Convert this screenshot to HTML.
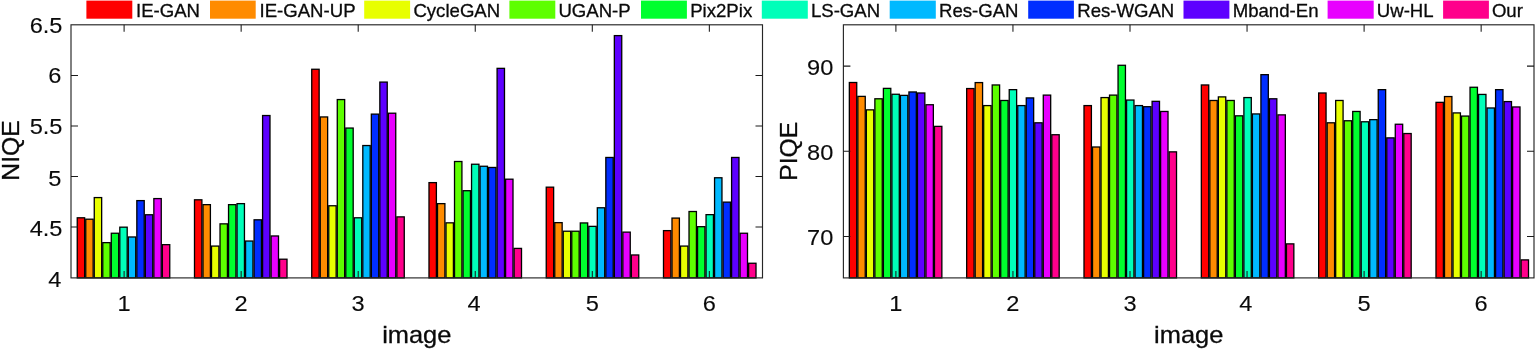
<!DOCTYPE html>
<html><head><meta charset="utf-8"><title>NIQE / PIQE comparison</title>
<style>html,body{margin:0;padding:0;background:#fff}svg{display:block;filter:blur(0.4px)}text{font-family:"Liberation Sans",Arial,Helvetica,sans-serif;fill:#0a0a0a;stroke:#0a0a0a;stroke-width:0.3px}.t text{stroke-width:0.12px}</style></head><body>
<svg width="1535" height="350" viewBox="0 0 1535 350">
<rect width="1535" height="350" fill="#fff"/>
<g>
<rect x="77.24" y="217.79" width="7.40" height="60.11" fill="#ff0000" stroke="#000" stroke-width="1.3"/>
<rect x="85.75" y="219.20" width="7.40" height="58.70" fill="#ff8b00" stroke="#000" stroke-width="1.3"/>
<rect x="94.26" y="197.58" width="7.40" height="80.32" fill="#e8ff00" stroke="#000" stroke-width="1.3"/>
<rect x="102.77" y="242.64" width="7.40" height="35.26" fill="#5dff00" stroke="#000" stroke-width="1.3"/>
<rect x="111.29" y="233.25" width="7.40" height="44.65" fill="#00ff2e" stroke="#000" stroke-width="1.3"/>
<rect x="119.80" y="227.18" width="7.40" height="50.72" fill="#00ffb9" stroke="#000" stroke-width="1.3"/>
<rect x="128.31" y="236.98" width="7.40" height="40.92" fill="#00b9ff" stroke="#000" stroke-width="1.3"/>
<rect x="136.83" y="200.61" width="7.40" height="77.29" fill="#002eff" stroke="#000" stroke-width="1.3"/>
<rect x="145.34" y="214.76" width="7.40" height="63.14" fill="#5d00ff" stroke="#000" stroke-width="1.3"/>
<rect x="153.85" y="198.59" width="7.40" height="79.31" fill="#e800ff" stroke="#000" stroke-width="1.3"/>
<rect x="162.36" y="244.66" width="7.40" height="33.24" fill="#ff008b" stroke="#000" stroke-width="1.3"/>
<rect x="194.49" y="199.80" width="7.40" height="78.10" fill="#ff0000" stroke="#000" stroke-width="1.3"/>
<rect x="203.00" y="204.65" width="7.40" height="73.25" fill="#ff8b00" stroke="#000" stroke-width="1.3"/>
<rect x="211.51" y="246.08" width="7.40" height="31.82" fill="#e8ff00" stroke="#000" stroke-width="1.3"/>
<rect x="220.02" y="223.85" width="7.40" height="54.05" fill="#5dff00" stroke="#000" stroke-width="1.3"/>
<rect x="228.54" y="204.65" width="7.40" height="73.25" fill="#00ff2e" stroke="#000" stroke-width="1.3"/>
<rect x="237.05" y="203.64" width="7.40" height="74.26" fill="#00ffb9" stroke="#000" stroke-width="1.3"/>
<rect x="245.56" y="241.03" width="7.40" height="36.87" fill="#00b9ff" stroke="#000" stroke-width="1.3"/>
<rect x="254.08" y="219.81" width="7.40" height="58.09" fill="#002eff" stroke="#000" stroke-width="1.3"/>
<rect x="262.59" y="115.53" width="7.40" height="162.37" fill="#5d00ff" stroke="#000" stroke-width="1.3"/>
<rect x="271.10" y="235.97" width="7.40" height="41.93" fill="#e800ff" stroke="#000" stroke-width="1.3"/>
<rect x="279.61" y="259.21" width="7.40" height="18.69" fill="#ff008b" stroke="#000" stroke-width="1.3"/>
<rect x="311.74" y="69.26" width="7.40" height="208.64" fill="#ff0000" stroke="#000" stroke-width="1.3"/>
<rect x="320.25" y="116.95" width="7.40" height="160.95" fill="#ff8b00" stroke="#000" stroke-width="1.3"/>
<rect x="328.76" y="205.76" width="7.40" height="72.14" fill="#e8ff00" stroke="#000" stroke-width="1.3"/>
<rect x="337.27" y="99.57" width="7.40" height="178.33" fill="#5dff00" stroke="#000" stroke-width="1.3"/>
<rect x="345.79" y="128.06" width="7.40" height="149.84" fill="#00ff2e" stroke="#000" stroke-width="1.3"/>
<rect x="354.30" y="217.79" width="7.40" height="60.11" fill="#00ffb9" stroke="#000" stroke-width="1.3"/>
<rect x="362.81" y="145.54" width="7.40" height="132.36" fill="#00b9ff" stroke="#000" stroke-width="1.3"/>
<rect x="371.33" y="114.12" width="7.40" height="163.78" fill="#002eff" stroke="#000" stroke-width="1.3"/>
<rect x="379.84" y="82.09" width="7.40" height="195.81" fill="#5d00ff" stroke="#000" stroke-width="1.3"/>
<rect x="388.35" y="113.21" width="7.40" height="164.69" fill="#e800ff" stroke="#000" stroke-width="1.3"/>
<rect x="396.86" y="216.88" width="7.40" height="61.02" fill="#ff008b" stroke="#000" stroke-width="1.3"/>
<rect x="428.99" y="182.62" width="7.40" height="95.28" fill="#ff0000" stroke="#000" stroke-width="1.3"/>
<rect x="437.50" y="203.64" width="7.40" height="74.26" fill="#ff8b00" stroke="#000" stroke-width="1.3"/>
<rect x="446.01" y="222.84" width="7.40" height="55.06" fill="#e8ff00" stroke="#000" stroke-width="1.3"/>
<rect x="454.52" y="161.51" width="7.40" height="116.39" fill="#5dff00" stroke="#000" stroke-width="1.3"/>
<rect x="463.04" y="190.71" width="7.40" height="87.19" fill="#00ff2e" stroke="#000" stroke-width="1.3"/>
<rect x="471.55" y="164.24" width="7.40" height="113.66" fill="#00ffb9" stroke="#000" stroke-width="1.3"/>
<rect x="480.06" y="166.26" width="7.40" height="111.64" fill="#00b9ff" stroke="#000" stroke-width="1.3"/>
<rect x="488.58" y="167.47" width="7.40" height="110.43" fill="#002eff" stroke="#000" stroke-width="1.3"/>
<rect x="497.09" y="68.35" width="7.40" height="209.55" fill="#5d00ff" stroke="#000" stroke-width="1.3"/>
<rect x="505.60" y="179.19" width="7.40" height="98.71" fill="#e800ff" stroke="#000" stroke-width="1.3"/>
<rect x="514.11" y="248.40" width="7.40" height="29.50" fill="#ff008b" stroke="#000" stroke-width="1.3"/>
<rect x="546.24" y="187.17" width="7.40" height="90.73" fill="#ff0000" stroke="#000" stroke-width="1.3"/>
<rect x="554.75" y="222.64" width="7.40" height="55.26" fill="#ff8b00" stroke="#000" stroke-width="1.3"/>
<rect x="563.26" y="231.22" width="7.40" height="46.68" fill="#e8ff00" stroke="#000" stroke-width="1.3"/>
<rect x="571.77" y="231.22" width="7.40" height="46.68" fill="#5dff00" stroke="#000" stroke-width="1.3"/>
<rect x="580.29" y="222.94" width="7.40" height="54.96" fill="#00ff2e" stroke="#000" stroke-width="1.3"/>
<rect x="588.80" y="226.37" width="7.40" height="51.53" fill="#00ffb9" stroke="#000" stroke-width="1.3"/>
<rect x="597.31" y="207.78" width="7.40" height="70.12" fill="#00b9ff" stroke="#000" stroke-width="1.3"/>
<rect x="605.83" y="157.47" width="7.40" height="120.43" fill="#002eff" stroke="#000" stroke-width="1.3"/>
<rect x="614.34" y="35.61" width="7.40" height="242.29" fill="#5d00ff" stroke="#000" stroke-width="1.3"/>
<rect x="622.85" y="232.13" width="7.40" height="45.77" fill="#e800ff" stroke="#000" stroke-width="1.3"/>
<rect x="631.36" y="254.97" width="7.40" height="22.93" fill="#ff008b" stroke="#000" stroke-width="1.3"/>
<rect x="663.49" y="230.62" width="7.40" height="47.28" fill="#ff0000" stroke="#000" stroke-width="1.3"/>
<rect x="672.00" y="218.09" width="7.40" height="59.81" fill="#ff8b00" stroke="#000" stroke-width="1.3"/>
<rect x="680.51" y="246.08" width="7.40" height="31.82" fill="#e8ff00" stroke="#000" stroke-width="1.3"/>
<rect x="689.02" y="211.52" width="7.40" height="66.38" fill="#5dff00" stroke="#000" stroke-width="1.3"/>
<rect x="697.54" y="226.68" width="7.40" height="51.22" fill="#00ff2e" stroke="#000" stroke-width="1.3"/>
<rect x="706.05" y="214.65" width="7.40" height="63.25" fill="#00ffb9" stroke="#000" stroke-width="1.3"/>
<rect x="714.56" y="177.77" width="7.40" height="100.13" fill="#00b9ff" stroke="#000" stroke-width="1.3"/>
<rect x="723.08" y="202.13" width="7.40" height="75.77" fill="#002eff" stroke="#000" stroke-width="1.3"/>
<rect x="731.59" y="157.47" width="7.40" height="120.43" fill="#5d00ff" stroke="#000" stroke-width="1.3"/>
<rect x="740.10" y="233.25" width="7.40" height="44.65" fill="#e800ff" stroke="#000" stroke-width="1.3"/>
<rect x="748.61" y="263.25" width="7.40" height="14.65" fill="#ff008b" stroke="#000" stroke-width="1.3"/>
</g>
<rect x="71.0" y="24.8" width="691.50" height="253.10" fill="none" stroke="#262626" stroke-width="1.15"/>
<path d="M124.10 277.9v-7M124.10 24.8v7M241.15 277.9v-7M241.15 24.8v7M358.20 277.9v-7M358.20 24.8v7M475.25 277.9v-7M475.25 24.8v7M592.30 277.9v-7M592.30 24.8v7M709.35 277.9v-7M709.35 24.8v7M71.0 227.08h7M762.5 227.08h-7M71.0 176.56h7M762.5 176.56h-7M71.0 126.04h7M762.5 126.04h-7M71.0 75.52h7M762.5 75.52h-7" stroke="#1a1a1a" stroke-width="1.05" fill="none"/>
<g class="t">
<text transform="translate(124.10,310.80) scale(1.055,1)" font-size="22.4" text-anchor="middle">1</text>
<text transform="translate(241.15,310.80) scale(1.055,1)" font-size="22.4" text-anchor="middle">2</text>
<text transform="translate(358.20,310.80) scale(1.055,1)" font-size="22.4" text-anchor="middle">3</text>
<text transform="translate(474.15,310.80) scale(1.055,1)" font-size="22.4" text-anchor="middle">4</text>
<text transform="translate(592.30,310.80) scale(1.055,1)" font-size="22.4" text-anchor="middle">5</text>
<text transform="translate(709.35,310.80) scale(1.055,1)" font-size="22.4" text-anchor="middle">6</text>
<text transform="translate(61.50,287.20) scale(1.055,1)" font-size="22.4" text-anchor="end">4</text>
<text transform="translate(62.50,236.40) scale(1.055,1)" font-size="22.4" text-anchor="end">4.5</text>
<text transform="translate(61.50,185.70) scale(1.055,1)" font-size="22.4" text-anchor="end">5</text>
<text transform="translate(62.50,134.20) scale(1.055,1)" font-size="22.4" text-anchor="end">5.5</text>
<text transform="translate(61.50,83.40) scale(1.055,1)" font-size="22.4" text-anchor="end">6</text>
<text transform="translate(62.50,32.90) scale(1.055,1)" font-size="22.4" text-anchor="end">6.5</text>
</g>
<text transform="translate(416.75,343.40) scale(1.06,1)" font-size="24" text-anchor="middle">image</text>
<text transform="translate(18.90,150.50) rotate(-90) scale(1.03,1)" font-size="24" text-anchor="middle">NIQE</text>
<g>
<rect x="849.34" y="82.50" width="7.40" height="195.40" fill="#ff0000" stroke="#000" stroke-width="1.3"/>
<rect x="857.85" y="96.39" width="7.40" height="181.51" fill="#ff8b00" stroke="#000" stroke-width="1.3"/>
<rect x="866.36" y="109.85" width="7.40" height="168.05" fill="#e8ff00" stroke="#000" stroke-width="1.3"/>
<rect x="874.87" y="98.78" width="7.40" height="179.12" fill="#5dff00" stroke="#000" stroke-width="1.3"/>
<rect x="883.39" y="88.38" width="7.40" height="189.52" fill="#00ff2e" stroke="#000" stroke-width="1.3"/>
<rect x="891.90" y="94.26" width="7.40" height="183.64" fill="#00ffb9" stroke="#000" stroke-width="1.3"/>
<rect x="900.41" y="95.37" width="7.40" height="182.53" fill="#00b9ff" stroke="#000" stroke-width="1.3"/>
<rect x="908.93" y="91.96" width="7.40" height="185.94" fill="#002eff" stroke="#000" stroke-width="1.3"/>
<rect x="917.44" y="92.98" width="7.40" height="184.92" fill="#5d00ff" stroke="#000" stroke-width="1.3"/>
<rect x="925.95" y="104.74" width="7.40" height="173.16" fill="#e800ff" stroke="#000" stroke-width="1.3"/>
<rect x="934.46" y="126.38" width="7.40" height="151.52" fill="#ff008b" stroke="#000" stroke-width="1.3"/>
<rect x="966.67" y="88.55" width="7.40" height="189.35" fill="#ff0000" stroke="#000" stroke-width="1.3"/>
<rect x="975.18" y="82.59" width="7.40" height="195.31" fill="#ff8b00" stroke="#000" stroke-width="1.3"/>
<rect x="983.69" y="105.59" width="7.40" height="172.31" fill="#e8ff00" stroke="#000" stroke-width="1.3"/>
<rect x="992.20" y="84.97" width="7.40" height="192.93" fill="#5dff00" stroke="#000" stroke-width="1.3"/>
<rect x="1000.72" y="100.48" width="7.40" height="177.42" fill="#00ff2e" stroke="#000" stroke-width="1.3"/>
<rect x="1009.23" y="89.66" width="7.40" height="188.24" fill="#00ffb9" stroke="#000" stroke-width="1.3"/>
<rect x="1017.74" y="105.59" width="7.40" height="172.31" fill="#00b9ff" stroke="#000" stroke-width="1.3"/>
<rect x="1026.26" y="97.92" width="7.40" height="179.98" fill="#002eff" stroke="#000" stroke-width="1.3"/>
<rect x="1034.77" y="122.80" width="7.40" height="155.10" fill="#5d00ff" stroke="#000" stroke-width="1.3"/>
<rect x="1043.28" y="95.11" width="7.40" height="182.79" fill="#e800ff" stroke="#000" stroke-width="1.3"/>
<rect x="1051.79" y="134.73" width="7.40" height="143.17" fill="#ff008b" stroke="#000" stroke-width="1.3"/>
<rect x="1084.00" y="105.59" width="7.40" height="172.31" fill="#ff0000" stroke="#000" stroke-width="1.3"/>
<rect x="1092.51" y="147.00" width="7.40" height="130.90" fill="#ff8b00" stroke="#000" stroke-width="1.3"/>
<rect x="1101.02" y="97.58" width="7.40" height="180.32" fill="#e8ff00" stroke="#000" stroke-width="1.3"/>
<rect x="1109.53" y="95.11" width="7.40" height="182.79" fill="#5dff00" stroke="#000" stroke-width="1.3"/>
<rect x="1118.05" y="65.29" width="7.40" height="212.61" fill="#00ff2e" stroke="#000" stroke-width="1.3"/>
<rect x="1126.56" y="100.05" width="7.40" height="177.85" fill="#00ffb9" stroke="#000" stroke-width="1.3"/>
<rect x="1135.07" y="105.59" width="7.40" height="172.31" fill="#00b9ff" stroke="#000" stroke-width="1.3"/>
<rect x="1143.59" y="106.70" width="7.40" height="171.20" fill="#002eff" stroke="#000" stroke-width="1.3"/>
<rect x="1152.10" y="101.33" width="7.40" height="176.57" fill="#5d00ff" stroke="#000" stroke-width="1.3"/>
<rect x="1160.61" y="111.47" width="7.40" height="166.43" fill="#e800ff" stroke="#000" stroke-width="1.3"/>
<rect x="1169.12" y="151.86" width="7.40" height="126.04" fill="#ff008b" stroke="#000" stroke-width="1.3"/>
<rect x="1201.33" y="84.97" width="7.40" height="192.93" fill="#ff0000" stroke="#000" stroke-width="1.3"/>
<rect x="1209.84" y="100.48" width="7.40" height="177.42" fill="#ff8b00" stroke="#000" stroke-width="1.3"/>
<rect x="1218.35" y="96.90" width="7.40" height="181.00" fill="#e8ff00" stroke="#000" stroke-width="1.3"/>
<rect x="1226.86" y="100.48" width="7.40" height="177.42" fill="#5dff00" stroke="#000" stroke-width="1.3"/>
<rect x="1235.38" y="115.82" width="7.40" height="162.08" fill="#00ff2e" stroke="#000" stroke-width="1.3"/>
<rect x="1243.89" y="97.58" width="7.40" height="180.32" fill="#00ffb9" stroke="#000" stroke-width="1.3"/>
<rect x="1252.40" y="113.94" width="7.40" height="163.96" fill="#00b9ff" stroke="#000" stroke-width="1.3"/>
<rect x="1260.92" y="74.66" width="7.40" height="203.24" fill="#002eff" stroke="#000" stroke-width="1.3"/>
<rect x="1269.43" y="98.78" width="7.40" height="179.12" fill="#5d00ff" stroke="#000" stroke-width="1.3"/>
<rect x="1277.94" y="114.88" width="7.40" height="163.02" fill="#e800ff" stroke="#000" stroke-width="1.3"/>
<rect x="1286.45" y="243.87" width="7.40" height="34.03" fill="#ff008b" stroke="#000" stroke-width="1.3"/>
<rect x="1318.66" y="92.98" width="7.40" height="184.92" fill="#ff0000" stroke="#000" stroke-width="1.3"/>
<rect x="1327.17" y="122.80" width="7.40" height="155.10" fill="#ff8b00" stroke="#000" stroke-width="1.3"/>
<rect x="1335.68" y="100.48" width="7.40" height="177.42" fill="#e8ff00" stroke="#000" stroke-width="1.3"/>
<rect x="1344.19" y="120.76" width="7.40" height="157.14" fill="#5dff00" stroke="#000" stroke-width="1.3"/>
<rect x="1352.71" y="111.47" width="7.40" height="166.43" fill="#00ff2e" stroke="#000" stroke-width="1.3"/>
<rect x="1361.22" y="121.78" width="7.40" height="156.12" fill="#00ffb9" stroke="#000" stroke-width="1.3"/>
<rect x="1369.73" y="119.65" width="7.40" height="158.25" fill="#00b9ff" stroke="#000" stroke-width="1.3"/>
<rect x="1378.25" y="89.66" width="7.40" height="188.24" fill="#002eff" stroke="#000" stroke-width="1.3"/>
<rect x="1386.76" y="137.88" width="7.40" height="140.02" fill="#5d00ff" stroke="#000" stroke-width="1.3"/>
<rect x="1395.27" y="124.25" width="7.40" height="153.65" fill="#e800ff" stroke="#000" stroke-width="1.3"/>
<rect x="1403.78" y="133.54" width="7.40" height="144.36" fill="#ff008b" stroke="#000" stroke-width="1.3"/>
<rect x="1435.99" y="102.35" width="7.40" height="175.55" fill="#ff0000" stroke="#000" stroke-width="1.3"/>
<rect x="1444.50" y="96.56" width="7.40" height="181.34" fill="#ff8b00" stroke="#000" stroke-width="1.3"/>
<rect x="1453.01" y="112.92" width="7.40" height="164.98" fill="#e8ff00" stroke="#000" stroke-width="1.3"/>
<rect x="1461.52" y="116.07" width="7.40" height="161.83" fill="#5dff00" stroke="#000" stroke-width="1.3"/>
<rect x="1470.04" y="87.27" width="7.40" height="190.63" fill="#00ff2e" stroke="#000" stroke-width="1.3"/>
<rect x="1478.55" y="94.43" width="7.40" height="183.47" fill="#00ffb9" stroke="#000" stroke-width="1.3"/>
<rect x="1487.06" y="107.98" width="7.40" height="169.92" fill="#00b9ff" stroke="#000" stroke-width="1.3"/>
<rect x="1495.58" y="89.66" width="7.40" height="188.24" fill="#002eff" stroke="#000" stroke-width="1.3"/>
<rect x="1504.09" y="101.59" width="7.40" height="176.31" fill="#5d00ff" stroke="#000" stroke-width="1.3"/>
<rect x="1512.60" y="106.96" width="7.40" height="170.94" fill="#e800ff" stroke="#000" stroke-width="1.3"/>
<rect x="1521.11" y="259.89" width="7.40" height="18.01" fill="#ff008b" stroke="#000" stroke-width="1.3"/>
</g>
<rect x="843.4" y="24.8" width="690.60" height="253.10" fill="none" stroke="#262626" stroke-width="1.15"/>
<path d="M895.90 277.9v-7M895.90 24.8v7M1012.95 277.9v-7M1012.95 24.8v7M1130.00 277.9v-7M1130.00 24.8v7M1247.05 277.9v-7M1247.05 24.8v7M1364.10 277.9v-7M1364.10 24.8v7M1481.15 277.9v-7M1481.15 24.8v7M843.4 236.50h7M1534.0 236.50h-7M843.4 151.30h7M1534.0 151.30h-7M843.4 66.10h7M1534.0 66.10h-7" stroke="#1a1a1a" stroke-width="1.05" fill="none"/>
<g class="t">
<text transform="translate(895.90,310.80) scale(1.055,1)" font-size="22.4" text-anchor="middle">1</text>
<text transform="translate(1012.95,310.80) scale(1.055,1)" font-size="22.4" text-anchor="middle">2</text>
<text transform="translate(1130.00,310.80) scale(1.055,1)" font-size="22.4" text-anchor="middle">3</text>
<text transform="translate(1245.95,310.80) scale(1.055,1)" font-size="22.4" text-anchor="middle">4</text>
<text transform="translate(1364.10,310.80) scale(1.055,1)" font-size="22.4" text-anchor="middle">5</text>
<text transform="translate(1481.15,310.80) scale(1.055,1)" font-size="22.4" text-anchor="middle">6</text>
<text transform="translate(833.40,245.20) scale(1.055,1)" font-size="22.4" text-anchor="end">70</text>
<text transform="translate(833.40,159.50) scale(1.055,1)" font-size="22.4" text-anchor="end">80</text>
<text transform="translate(833.40,75.20) scale(1.055,1)" font-size="22.4" text-anchor="end">90</text>
</g>
<text transform="translate(1188.70,343.40) scale(1.06,1)" font-size="24" text-anchor="middle">image</text>
<text transform="translate(797.00,151.30) rotate(-90) scale(1.03,1)" font-size="24" text-anchor="middle">PIQE</text>
<rect x="86.4" y="0.6" width="45.9" height="18.1" fill="#ff0000"/>
<text transform="translate(136.00,17.20)" font-size="18.6" text-anchor="start">IE-GAN</text>
<rect x="210.0" y="0.6" width="45.7" height="18.1" fill="#ff8b00"/>
<text transform="translate(259.50,17.20)" font-size="18.6" text-anchor="start">IE-GAN-UP</text>
<rect x="364.2" y="0.6" width="45.9" height="18.1" fill="#e8ff00"/>
<text transform="translate(413.40,17.20)" font-size="18.6" text-anchor="start">CycleGAN</text>
<rect x="509.4" y="0.6" width="45.9" height="18.1" fill="#5dff00"/>
<text transform="translate(558.40,17.20)" font-size="18.6" text-anchor="start">UGAN-P</text>
<rect x="641.0" y="0.6" width="45.9" height="18.1" fill="#00ff2e"/>
<text transform="translate(690.20,17.20)" font-size="18.6" text-anchor="start">Pix2Pix</text>
<rect x="761.8" y="0.6" width="46.0" height="18.1" fill="#00ffb9"/>
<text transform="translate(810.90,17.20)" font-size="18.6" text-anchor="start">LS-GAN</text>
<rect x="889.7" y="0.6" width="46.1" height="18.1" fill="#00b9ff"/>
<text transform="translate(939.00,17.20)" font-size="18.6" text-anchor="start">Res-GAN</text>
<rect x="1028.2" y="0.6" width="45.7" height="18.1" fill="#002eff"/>
<text transform="translate(1077.20,17.20)" font-size="18.6" text-anchor="start">Res-WGAN</text>
<rect x="1183.5" y="0.6" width="45.9" height="18.1" fill="#5d00ff"/>
<text transform="translate(1232.70,17.20)" font-size="18.6" text-anchor="start">Mband-En</text>
<rect x="1327.6" y="0.6" width="46.1" height="18.1" fill="#e800ff"/>
<text transform="translate(1376.80,17.20)" font-size="18.6" text-anchor="start">Uw-HL</text>
<rect x="1443.1" y="0.6" width="45.8" height="18.1" fill="#ff008b"/>
<text transform="translate(1491.90,17.20)" font-size="18.6" text-anchor="start">Our</text>
</svg></body></html>
